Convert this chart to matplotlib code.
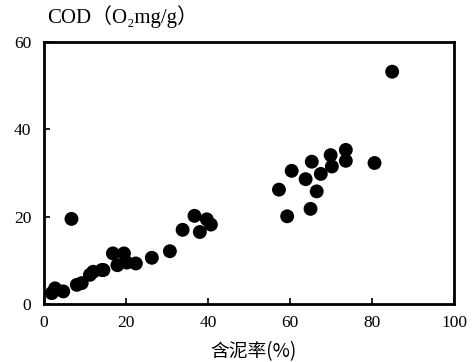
import matplotlib
matplotlib.use("Agg")
import matplotlib.pyplot as plt

# Mud content (%) and COD (O2 mg/g) of sediment samples
mud_content = [1.9, 2.7, 4.7, 8.0, 9.2, 11.2, 12.0, 14.1, 14.5, 16.8, 17.9, 19.5,
               20.2, 22.4, 26.3, 30.7, 33.8, 36.7, 38.0, 39.7, 40.7, 6.7,
               57.3, 59.3, 60.4, 63.8, 65.0, 65.3, 66.5, 67.5, 69.9, 70.2,
               73.6, 73.6, 80.6, 84.9]
cod = [2.5, 3.6, 2.9, 4.4, 4.8, 6.7, 7.4, 7.8, 7.8, 11.6, 8.9, 11.6,
       9.5, 9.3, 10.6, 12.1, 17.0, 20.2, 16.5, 19.4, 18.2, 19.5,
       26.2, 20.1, 30.5, 28.6, 21.8, 32.6, 25.8, 29.8, 34.1, 31.5,
       35.3, 32.8, 32.3, 53.2]

x_ticks = [0, 20, 40, 60, 80, 100]
y_ticks = [0, 20, 40, 60]

serif = ["Liberation Serif", "DejaVu Serif", "Noto Sans CJK SC"]
cjk = ["Noto Sans CJK SC", "DejaVu Sans"]

fig = plt.figure(figsize=(4.73, 3.62), dpi=100)
ax = fig.add_axes([0.093, 0.160, 0.867, 0.724])

ax.scatter(mud_content, cod, s=100, color="black", edgecolors="none", zorder=3)

ax.set_xlim(0, 100)
ax.set_ylim(0, 60)
ax.set_xticks(x_ticks)
ax.set_yticks(y_ticks)
ax.set_xticklabels([str(v) for v in x_ticks], family=serif, fontsize=12.5)
ax.set_yticklabels([str(v) for v in y_ticks], family=serif, fontsize=12.5)
ax.tick_params(direction="in", length=4, width=1.2, colors="black")
ax.tick_params(axis="x", pad=8)
ax.tick_params(axis="y", pad=9)

for spine in ax.spines.values():
    spine.set_linewidth(2.0)
    spine.set_color("black")

fig.text(0.099, 0.955, "COD（O₂mg/g）", family=serif, fontsize=15,
         ha="left", va="center")
fig.text(0.535, 0.030, "含泥率(%)", family=cjk, fontsize=13.5,
         ha="center", va="center")

fig.savefig("out.png", dpi=100)
